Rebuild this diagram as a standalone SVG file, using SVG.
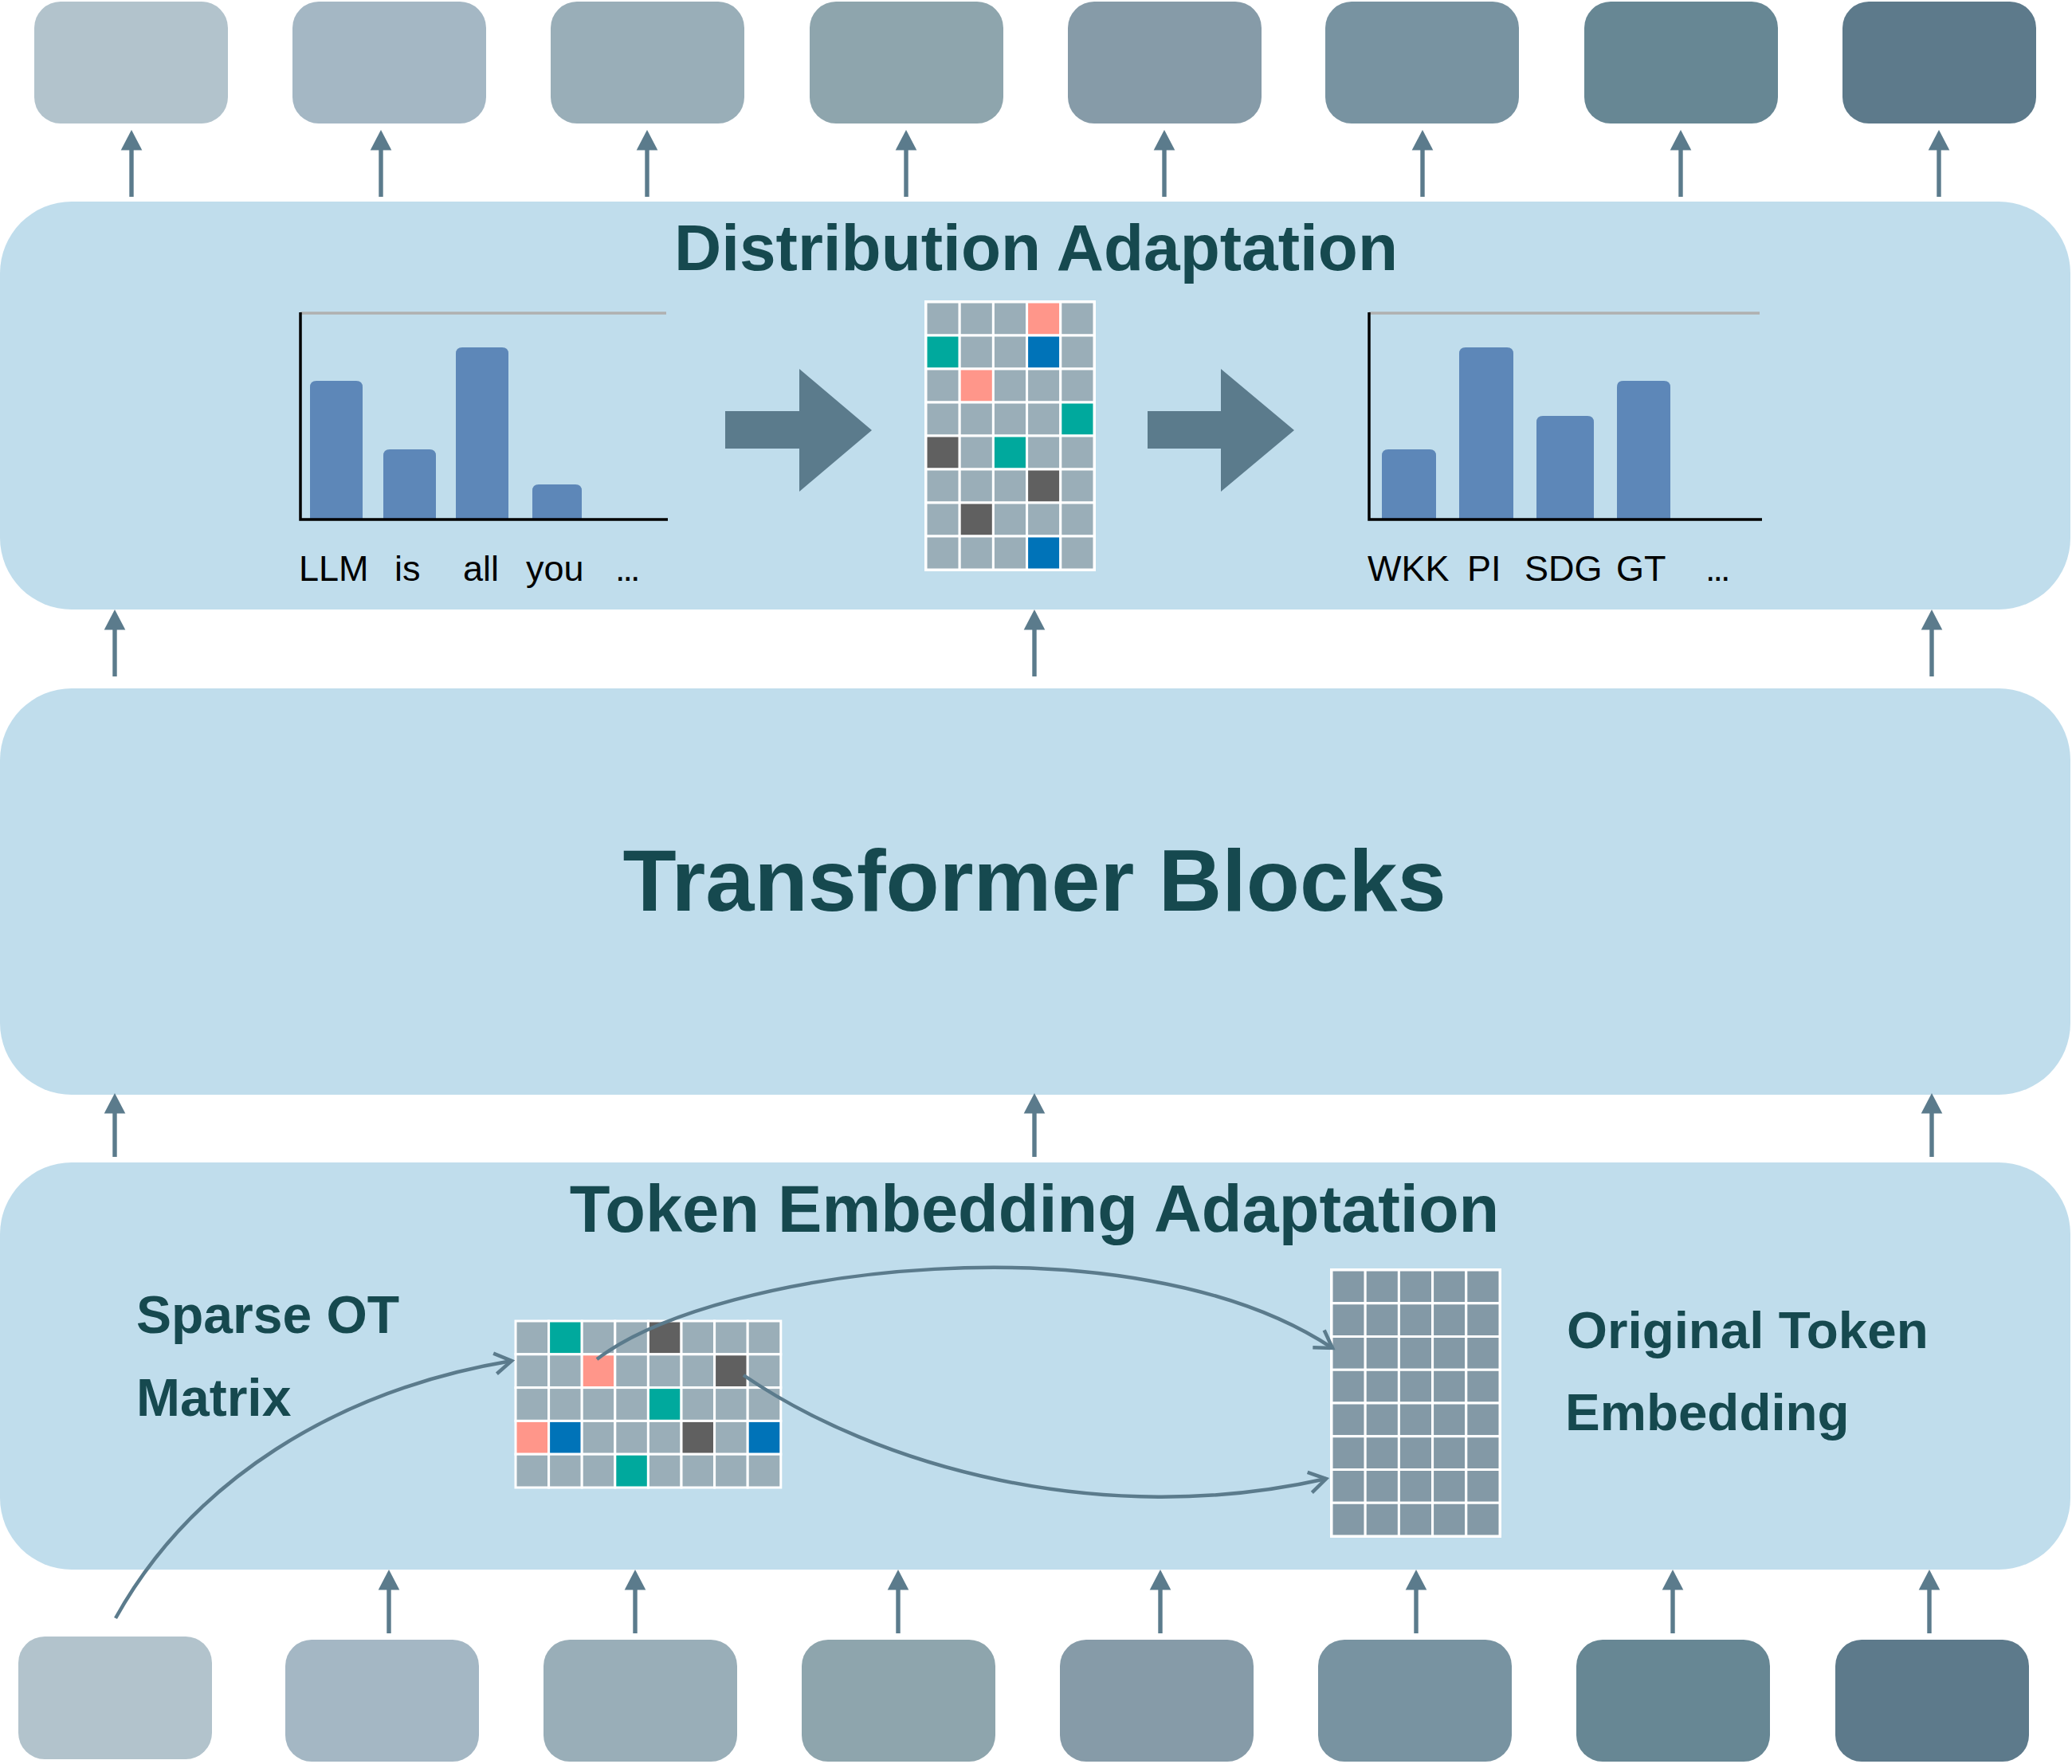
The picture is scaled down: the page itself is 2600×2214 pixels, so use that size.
<svg xmlns="http://www.w3.org/2000/svg" xmlns:xlink="http://www.w3.org/1999/xlink" width="2600" height="2214" viewBox="0 0 2600 2214">
<style>
.panel{fill:#c0ddec}
.title{font-family:"Liberation Sans",Arial,sans-serif;font-weight:bold;fill:#16494f}
.lbl{font-family:"Liberation Sans",Arial,sans-serif;font-size:45px;fill:#000}
.bar{fill:#5d87b8}
.axis{stroke:#000;stroke-width:3.5;fill:none}
.topline{stroke:#b0b0b0;stroke-width:3.5;fill:none}
.g{fill:#9aaeb8;stroke:#fff;stroke-width:3}
.t{fill:#00a99d;stroke:#fff;stroke-width:3}
.d{fill:#606060;stroke:#fff;stroke-width:3}
.s{fill:#ff968a;stroke:#fff;stroke-width:3}
.b{fill:#0073b8;stroke:#fff;stroke-width:3}
.e{fill:#8399a6;stroke:#fff;stroke-width:3}
.conn{stroke:#5b7b8c;fill:none;stroke-width:4.5}
.big{fill:#5b7b8c}
</style>
<defs>
<g id="up84"><polygon points="0,0 13.3,25.5 -13.3,25.5" fill="#5b7b8c"/><rect x="-2.7" y="24" width="5.4" height="60" fill="#5b7b8c"/></g>
<g id="up80"><polygon points="0,0 13.3,25.5 -13.3,25.5" fill="#5b7b8c"/><rect x="-2.7" y="24" width="5.4" height="56" fill="#5b7b8c"/></g>
<marker id="chev" markerUnits="userSpaceOnUse" markerWidth="40" markerHeight="40" viewBox="-30 -20 40 40" refX="0" refY="0" orient="auto">
<path d="M-21,-13 L0,0 L-21,13" fill="none" stroke="#5b7b8c" stroke-width="4.5"/>
</marker>
</defs>

<!-- output tokens (top) -->
<g id="out-tokens">
<rect id="out1" x="43" y="2" width="243" height="153" rx="33" fill="#b2c3cc"/>
<rect id="out2" x="367" y="2" width="243" height="153" rx="33" fill="#a4b7c4"/>
<rect id="out3" x="691" y="2" width="243" height="153" rx="33" fill="#99aeb8"/>
<rect id="out4" x="1016" y="2" width="243" height="153" rx="33" fill="#8ea5ad"/>
<rect id="out5" x="1340" y="2" width="243" height="153" rx="33" fill="#869ba8"/>
<rect id="out6" x="1663" y="2" width="243" height="153" rx="33" fill="#7893a1"/>
<rect id="out7" x="1988" y="2" width="243" height="153" rx="33" fill="#678794"/>
<rect id="out8" x="2312" y="2" width="243" height="153" rx="33" fill="#5d7a8b"/>
</g>

<!-- Distribution Adaptation -->
<g id="distribution">
<rect class="panel" x="0" y="253" width="2598" height="512" rx="90"/>
<text class="title" x="1300" y="339" font-size="82" text-anchor="middle">Distribution Adaptation</text>
<g id="chart-left">
<path class="topline" d="M377,393 H836"/>
<path class="bar" d="M389,651 V486 Q389,478 397,478 H447 Q455,478 455,486 V651 Z"/>
<path class="bar" d="M481,651 V572 Q481,564 489,564 H539 Q547,564 547,572 V651 Z"/>
<path class="bar" d="M572,651 V444 Q572,436 580,436 H630 Q638,436 638,444 V651 Z"/>
<path class="bar" d="M668,651 V616 Q668,608 676,608 H722 Q730,608 730,616 V651 Z"/>
<path class="axis" d="M377,392 V652 H838"/>
<text class="lbl" x="375" y="729">LLM</text>
<text class="lbl" x="495" y="729">is</text>
<text class="lbl" x="581" y="729">all</text>
<text class="lbl" x="660" y="729">you</text>
<text class="lbl" x="772" y="729" letter-spacing="-3">...</text>
</g>
<polygon class="big" points="910,516 1003,516 1003,463 1094,540 1003,617 1003,563 910,563"/>
<g id="dist-matrix">
<rect x="1160" y="377" width="215" height="340" fill="#fff"/>
<g transform="translate(1162,379)">
<rect class="g" x="0" y="0" width="42.2" height="42"/><rect class="g" x="42.2" y="0" width="42.2" height="42"/><rect class="g" x="84.4" y="0" width="42.2" height="42"/><rect class="s" x="126.6" y="0" width="42.2" height="42"/><rect class="g" x="168.8" y="0" width="42.2" height="42"/>
<rect class="t" x="0" y="42" width="42.2" height="42"/><rect class="g" x="42.2" y="42" width="42.2" height="42"/><rect class="g" x="84.4" y="42" width="42.2" height="42"/><rect class="b" x="126.6" y="42" width="42.2" height="42"/><rect class="g" x="168.8" y="42" width="42.2" height="42"/>
<rect class="g" x="0" y="84" width="42.2" height="42"/><rect class="s" x="42.2" y="84" width="42.2" height="42"/><rect class="g" x="84.4" y="84" width="42.2" height="42"/><rect class="g" x="126.6" y="84" width="42.2" height="42"/><rect class="g" x="168.8" y="84" width="42.2" height="42"/>
<rect class="g" x="0" y="126" width="42.2" height="42"/><rect class="g" x="42.2" y="126" width="42.2" height="42"/><rect class="g" x="84.4" y="126" width="42.2" height="42"/><rect class="g" x="126.6" y="126" width="42.2" height="42"/><rect class="t" x="168.8" y="126" width="42.2" height="42"/>
<rect class="d" x="0" y="168" width="42.2" height="42"/><rect class="g" x="42.2" y="168" width="42.2" height="42"/><rect class="t" x="84.4" y="168" width="42.2" height="42"/><rect class="g" x="126.6" y="168" width="42.2" height="42"/><rect class="g" x="168.8" y="168" width="42.2" height="42"/>
<rect class="g" x="0" y="210" width="42.2" height="42"/><rect class="g" x="42.2" y="210" width="42.2" height="42"/><rect class="g" x="84.4" y="210" width="42.2" height="42"/><rect class="d" x="126.6" y="210" width="42.2" height="42"/><rect class="g" x="168.8" y="210" width="42.2" height="42"/>
<rect class="g" x="0" y="252" width="42.2" height="42"/><rect class="d" x="42.2" y="252" width="42.2" height="42"/><rect class="g" x="84.4" y="252" width="42.2" height="42"/><rect class="g" x="126.6" y="252" width="42.2" height="42"/><rect class="g" x="168.8" y="252" width="42.2" height="42"/>
<rect class="g" x="0" y="294" width="42.2" height="42"/><rect class="g" x="42.2" y="294" width="42.2" height="42"/><rect class="g" x="84.4" y="294" width="42.2" height="42"/><rect class="b" x="126.6" y="294" width="42.2" height="42"/><rect class="g" x="168.8" y="294" width="42.2" height="42"/>
</g>
</g>
<polygon class="big" points="1440,516 1532,516 1532,463 1624,540 1532,617 1532,563 1440,563"/>
<g id="chart-right">
<path class="topline" d="M1718,393 H2208"/>
<path class="bar" d="M1734,651 V572 Q1734,564 1742,564 H1794 Q1802,564 1802,572 V651 Z"/>
<path class="bar" d="M1831,651 V444 Q1831,436 1839,436 H1891 Q1899,436 1899,444 V651 Z"/>
<path class="bar" d="M1928,651 V530 Q1928,522 1936,522 H1992 Q2000,522 2000,530 V651 Z"/>
<path class="bar" d="M2029,651 V486 Q2029,478 2037,478 H2088 Q2096,478 2096,486 V651 Z"/>
<path class="axis" d="M1718,392 V652 H2211"/>
<text class="lbl" x="1716" y="729">WKK</text>
<text class="lbl" x="1841" y="729">PI</text>
<text class="lbl" x="1913" y="729">SDG</text>
<text class="lbl" x="2028" y="729">GT</text>
<text class="lbl" x="2140" y="729" letter-spacing="-3">...</text>
</g>
</g>

<!-- Transformer Blocks -->
<g id="transformer">
<rect class="panel" x="0" y="864" width="2598" height="510" rx="90"/>
<text class="title" x="1298" y="1143" font-size="110" text-anchor="middle">Transformer Blocks</text>
</g>

<!-- Token Embedding Adaptation -->
<g id="token-embedding">
<rect class="panel" x="0" y="1459" width="2598" height="511" rx="90"/>
<text class="title" x="1298" y="1546" font-size="83" text-anchor="middle">Token Embedding Adaptation</text>
<text class="title" x="171" y="1673" font-size="66">Sparse OT</text>
<text class="title" x="171" y="1777" font-size="66">Matrix</text>
<text class="title" x="1966" y="1692" font-size="65.5">Original Token</text>
<text class="title" x="1964" y="1795" font-size="65.5">Embedding</text>
<g id="ot-matrix" transform="translate(647,1658)">
<rect class="g" x="0" y="0" width="41.6" height="41.8"/><rect class="t" x="41.6" y="0" width="41.6" height="41.8"/><rect class="g" x="83.2" y="0" width="41.6" height="41.8"/><rect class="g" x="124.8" y="0" width="41.6" height="41.8"/><rect class="d" x="166.4" y="0" width="41.6" height="41.8"/><rect class="g" x="208" y="0" width="41.6" height="41.8"/><rect class="g" x="249.6" y="0" width="41.6" height="41.8"/><rect class="g" x="291.2" y="0" width="41.6" height="41.8"/>
<rect class="g" x="0" y="41.8" width="41.6" height="41.8"/><rect class="g" x="41.6" y="41.8" width="41.6" height="41.8"/><rect class="s" x="83.2" y="41.8" width="41.6" height="41.8"/><rect class="g" x="124.8" y="41.8" width="41.6" height="41.8"/><rect class="g" x="166.4" y="41.8" width="41.6" height="41.8"/><rect class="g" x="208" y="41.8" width="41.6" height="41.8"/><rect class="d" x="249.6" y="41.8" width="41.6" height="41.8"/><rect class="g" x="291.2" y="41.8" width="41.6" height="41.8"/>
<rect class="g" x="0" y="83.6" width="41.6" height="41.8"/><rect class="g" x="41.6" y="83.6" width="41.6" height="41.8"/><rect class="g" x="83.2" y="83.6" width="41.6" height="41.8"/><rect class="g" x="124.8" y="83.6" width="41.6" height="41.8"/><rect class="t" x="166.4" y="83.6" width="41.6" height="41.8"/><rect class="g" x="208" y="83.6" width="41.6" height="41.8"/><rect class="g" x="249.6" y="83.6" width="41.6" height="41.8"/><rect class="g" x="291.2" y="83.6" width="41.6" height="41.8"/>
<rect class="s" x="0" y="125.4" width="41.6" height="41.8"/><rect class="b" x="41.6" y="125.4" width="41.6" height="41.8"/><rect class="g" x="83.2" y="125.4" width="41.6" height="41.8"/><rect class="g" x="124.8" y="125.4" width="41.6" height="41.8"/><rect class="g" x="166.4" y="125.4" width="41.6" height="41.8"/><rect class="d" x="208" y="125.4" width="41.6" height="41.8"/><rect class="g" x="249.6" y="125.4" width="41.6" height="41.8"/><rect class="b" x="291.2" y="125.4" width="41.6" height="41.8"/>
<rect class="g" x="0" y="167.2" width="41.6" height="41.8"/><rect class="g" x="41.6" y="167.2" width="41.6" height="41.8"/><rect class="g" x="83.2" y="167.2" width="41.6" height="41.8"/><rect class="t" x="124.8" y="167.2" width="41.6" height="41.8"/><rect class="g" x="166.4" y="167.2" width="41.6" height="41.8"/><rect class="g" x="208" y="167.2" width="41.6" height="41.8"/><rect class="g" x="249.6" y="167.2" width="41.6" height="41.8"/><rect class="g" x="291.2" y="167.2" width="41.6" height="41.8"/>
</g>
<g id="orig-embedding">
<rect x="1669" y="1592" width="215" height="338" fill="#fff"/>
<g transform="translate(1671,1594)">
<rect class="e" x="0" y="0" width="42.2" height="41.75"/><rect class="e" x="42.2" y="0" width="42.2" height="41.75"/><rect class="e" x="84.4" y="0" width="42.2" height="41.75"/><rect class="e" x="126.6" y="0" width="42.2" height="41.75"/><rect class="e" x="168.8" y="0" width="42.2" height="41.75"/>
<rect class="e" x="0" y="41.75" width="42.2" height="41.75"/><rect class="e" x="42.2" y="41.75" width="42.2" height="41.75"/><rect class="e" x="84.4" y="41.75" width="42.2" height="41.75"/><rect class="e" x="126.6" y="41.75" width="42.2" height="41.75"/><rect class="e" x="168.8" y="41.75" width="42.2" height="41.75"/>
<rect class="e" x="0" y="83.5" width="42.2" height="41.75"/><rect class="e" x="42.2" y="83.5" width="42.2" height="41.75"/><rect class="e" x="84.4" y="83.5" width="42.2" height="41.75"/><rect class="e" x="126.6" y="83.5" width="42.2" height="41.75"/><rect class="e" x="168.8" y="83.5" width="42.2" height="41.75"/>
<rect class="e" x="0" y="125.25" width="42.2" height="41.75"/><rect class="e" x="42.2" y="125.25" width="42.2" height="41.75"/><rect class="e" x="84.4" y="125.25" width="42.2" height="41.75"/><rect class="e" x="126.6" y="125.25" width="42.2" height="41.75"/><rect class="e" x="168.8" y="125.25" width="42.2" height="41.75"/>
<rect class="e" x="0" y="167" width="42.2" height="41.75"/><rect class="e" x="42.2" y="167" width="42.2" height="41.75"/><rect class="e" x="84.4" y="167" width="42.2" height="41.75"/><rect class="e" x="126.6" y="167" width="42.2" height="41.75"/><rect class="e" x="168.8" y="167" width="42.2" height="41.75"/>
<rect class="e" x="0" y="208.75" width="42.2" height="41.75"/><rect class="e" x="42.2" y="208.75" width="42.2" height="41.75"/><rect class="e" x="84.4" y="208.75" width="42.2" height="41.75"/><rect class="e" x="126.6" y="208.75" width="42.2" height="41.75"/><rect class="e" x="168.8" y="208.75" width="42.2" height="41.75"/>
<rect class="e" x="0" y="250.5" width="42.2" height="41.75"/><rect class="e" x="42.2" y="250.5" width="42.2" height="41.75"/><rect class="e" x="84.4" y="250.5" width="42.2" height="41.75"/><rect class="e" x="126.6" y="250.5" width="42.2" height="41.75"/><rect class="e" x="168.8" y="250.5" width="42.2" height="41.75"/>
<rect class="e" x="0" y="292.25" width="42.2" height="41.75"/><rect class="e" x="42.2" y="292.25" width="42.2" height="41.75"/><rect class="e" x="84.4" y="292.25" width="42.2" height="41.75"/><rect class="e" x="126.6" y="292.25" width="42.2" height="41.75"/><rect class="e" x="168.8" y="292.25" width="42.2" height="41.75"/>
</g>
</g>
</g>

<!-- input tokens (bottom) -->
<g id="in-tokens">
<rect id="in1" x="23" y="2054" width="243" height="154" rx="33" fill="#b2c3cc"/>
<rect id="in2" x="358" y="2058" width="243" height="153" rx="33" fill="#a4b7c4"/>
<rect id="in3" x="682" y="2058" width="243" height="153" rx="33" fill="#99aeb8"/>
<rect id="in4" x="1006" y="2058" width="243" height="153" rx="33" fill="#8ea5ad"/>
<rect id="in5" x="1330" y="2058" width="243" height="153" rx="33" fill="#869ba8"/>
<rect id="in6" x="1654" y="2058" width="243" height="153" rx="33" fill="#7893a1"/>
<rect id="in7" x="1978" y="2058" width="243" height="153" rx="33" fill="#678794"/>
<rect id="in8" x="2303" y="2058" width="243" height="153" rx="33" fill="#5d7a8b"/>
</g>

<!-- connectors -->
<g id="connectors">
<use xlink:href="#up84" x="165" y="163"/>
<use xlink:href="#up84" x="478" y="163"/>
<use xlink:href="#up84" x="812" y="163"/>
<use xlink:href="#up84" x="1137" y="163"/>
<use xlink:href="#up84" x="1461" y="163"/>
<use xlink:href="#up84" x="1785" y="163"/>
<use xlink:href="#up84" x="2109" y="163"/>
<use xlink:href="#up84" x="2433" y="163"/>
<use xlink:href="#up84" x="144" y="765"/>
<use xlink:href="#up84" x="1298" y="765"/>
<use xlink:href="#up84" x="2424" y="765"/>
<use xlink:href="#up80" x="144" y="1372"/>
<use xlink:href="#up80" x="1298" y="1372"/>
<use xlink:href="#up80" x="2424" y="1372"/>
<use xlink:href="#up80" x="488" y="1970"/>
<use xlink:href="#up80" x="797" y="1970"/>
<use xlink:href="#up80" x="1127" y="1970"/>
<use xlink:href="#up80" x="1456" y="1970"/>
<use xlink:href="#up80" x="1777" y="1970"/>
<use xlink:href="#up80" x="2099" y="1970"/>
<use xlink:href="#up80" x="2421" y="1970"/>
<path class="conn" d="M145,2031 C240,1860 420,1745 642,1708" marker-end="url(#chev)"/>
<path class="conn" d="M749,1706 C900,1590 1420,1525 1672,1692" marker-end="url(#chev)"/>
<path class="conn" d="M933,1726 C1100,1840 1380,1920 1664,1856" marker-end="url(#chev)"/>
</g>
</svg>
